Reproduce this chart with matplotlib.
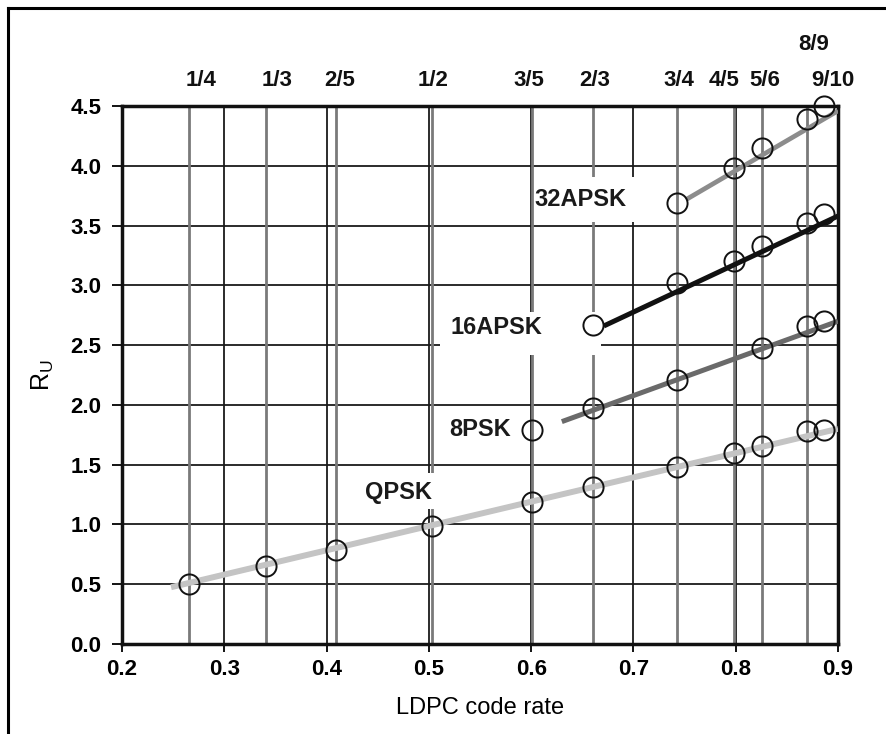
import matplotlib.pyplot as plt
from matplotlib.lines import Line2D
from matplotlib.patches import Rectangle
from matplotlib.transforms import blended_transform_factory

# code rates, where they sit on the x axis
rate_labels = ['1/4', '1/3', '2/5', '1/2', '3/5', '2/3', '3/4', '4/5', '5/6', '8/9', '9/10']
rate_pos = [0.266, 0.341, 0.4095, 0.503, 0.601, 0.660, 0.743, 0.798, 0.826, 0.870, 0.886]

# R_U values per modulation
qpsk_x = [0.266, 0.341, 0.4095, 0.503, 0.601, 0.660, 0.743, 0.798, 0.826, 0.870, 0.886]
qpsk_y = [0.50, 0.65, 0.79, 0.99, 1.19, 1.31, 1.48, 1.60, 1.66, 1.78, 1.79]
psk8_x = [0.601, 0.660, 0.743, 0.826, 0.870, 0.886]
psk8_y = [1.79, 1.97, 2.21, 2.48, 2.66, 2.70]
apsk16_x = [0.660, 0.743, 0.798, 0.826, 0.870, 0.886]
apsk16_y = [2.67, 3.02, 3.20, 3.33, 3.52, 3.60]
apsk32_x = [0.743, 0.798, 0.826, 0.870, 0.886]
apsk32_y = [3.69, 3.98, 4.15, 4.39, 4.50]

# straight trend lines (end points)
qpsk_fit_x, qpsk_fit_y = [0.248, 0.900], [0.475, 1.80]
psk8_fit_x, psk8_fit_y = [0.630, 0.900], [1.86, 2.70]
apsk16_fit_x, apsk16_fit_y = [0.671, 0.900], [2.66, 3.58]
apsk32_fit_x, apsk32_fit_y = [0.752, 0.900], [3.72, 4.46]

font = 'Liberation Sans'

fig = plt.figure(figsize=(8.87, 7.34), dpi=100)
ax = fig.add_axes([0.1375, 0.1226, 0.8073, 0.733])
ax.set_xlim(0.2, 0.9)
ax.set_ylim(0, 4.5)

# black grid
ax.set_axisbelow(True)
ax.set_xticks([0.2, 0.3, 0.4, 0.5, 0.6, 0.7, 0.8, 0.9])
ax.set_yticks([0, 0.5, 1, 1.5, 2, 2.5, 3, 3.5, 4, 4.5])
ax.grid(True, color='#1a1a1a', lw=1.3)

# grey lines at each code rate
for x in rate_pos[:-1]:
    ax.axvline(x, color='#7a7a7a', lw=2, zorder=1)

# white boxes behind the modulation labels
for x0, y0, w, h in [(0.604, 3.53, 0.122, 0.38), (0.511, 2.42, 0.157, 0.36),
                     (0.433, 1.13, 0.078, 0.30), (0.515, 1.66, 0.075, 0.26)]:
    ax.add_patch(Rectangle((x0, y0), w, h, facecolor='white', edgecolor='none', zorder=1.5))

ax.plot(qpsk_fit_x, qpsk_fit_y, color='#c4c4c4', lw=4.3, solid_capstyle='butt', zorder=3)
ax.plot(psk8_fit_x, psk8_fit_y, color='#6a6a6a', lw=3.6, solid_capstyle='butt', zorder=3)
ax.plot(apsk16_fit_x, apsk16_fit_y, color='#111111', lw=3.6, solid_capstyle='butt', zorder=3)
ax.plot(apsk32_fit_x, apsk32_fit_y, color='#8c8c8c', lw=3.4, solid_capstyle='butt', zorder=3)

for xs, ys in [(qpsk_x, qpsk_y), (psk8_x, psk8_y), (apsk16_x, apsk16_y), (apsk32_x, apsk32_y)]:
    ax.plot(xs, ys, 'o', ms=14.5, mfc='none', mec='#111111', mew=1.4, zorder=4, clip_on=False)

lab = dict(fontsize=17, family=font, fontweight='bold', ha='center', va='center',
           color='#1a1a1a', zorder=5)
ax.text(0.648, 3.72, '32APSK', **lab)
ax.text(0.566, 2.65, '16APSK', **lab)
ax.text(0.550, 1.79, '8PSK', **lab)
ax.text(0.470, 1.27, 'QPSK', **lab)

# code-rate labels above the frame
tr = blended_transform_factory(ax.transData, ax.transAxes)
label_pos = [0.277, 0.352, 0.413, 0.504, 0.598, 0.662, 0.744, 0.789, 0.828, 0.876, 0.895]
for name, x in zip(rate_labels, label_pos):
    y = 1.115 if name == '8/9' else 1.048
    ax.text(x, y, name, transform=tr, ha='center', va='center', fontsize=16,
            family=font, fontweight='bold', color='#111111')

for s in ax.spines.values():
    s.set_linewidth(2.5)
    s.set_color('#111111')

ax.tick_params(axis='y', length=7, width=1.3, pad=8, labelsize=16, direction='out')
ax.tick_params(axis='x', length=6, width=1.3, pad=5, labelsize=16, direction='out')
ax.set_yticklabels(['0.0', '0.5', '1.0', '1.5', '2.0', '2.5', '3.0', '3.5', '4.0', '4.5'],
                   family=font, fontweight='bold')
ax.set_xticklabels(['0.2', '0.3', '0.4', '0.5', '0.6', '0.7', '0.8', '0.9'],
                   family=font, fontweight='bold', fontsize=16)

ax.set_xlabel('LDPC code rate', family=font, fontsize=17, labelpad=12)
ax.set_ylabel(r'R$_\mathregular{U}$', family=font, fontsize=18, labelpad=10)

# outer frame (left and top edges)
fig.add_artist(Line2D([0.009, 0.009], [0, 0.989], color='black', lw=2.2))
fig.add_artist(Line2D([0.009, 1.0], [0.989, 0.989], color='black', lw=2.2))

fig.savefig('out.png', dpi=100)
